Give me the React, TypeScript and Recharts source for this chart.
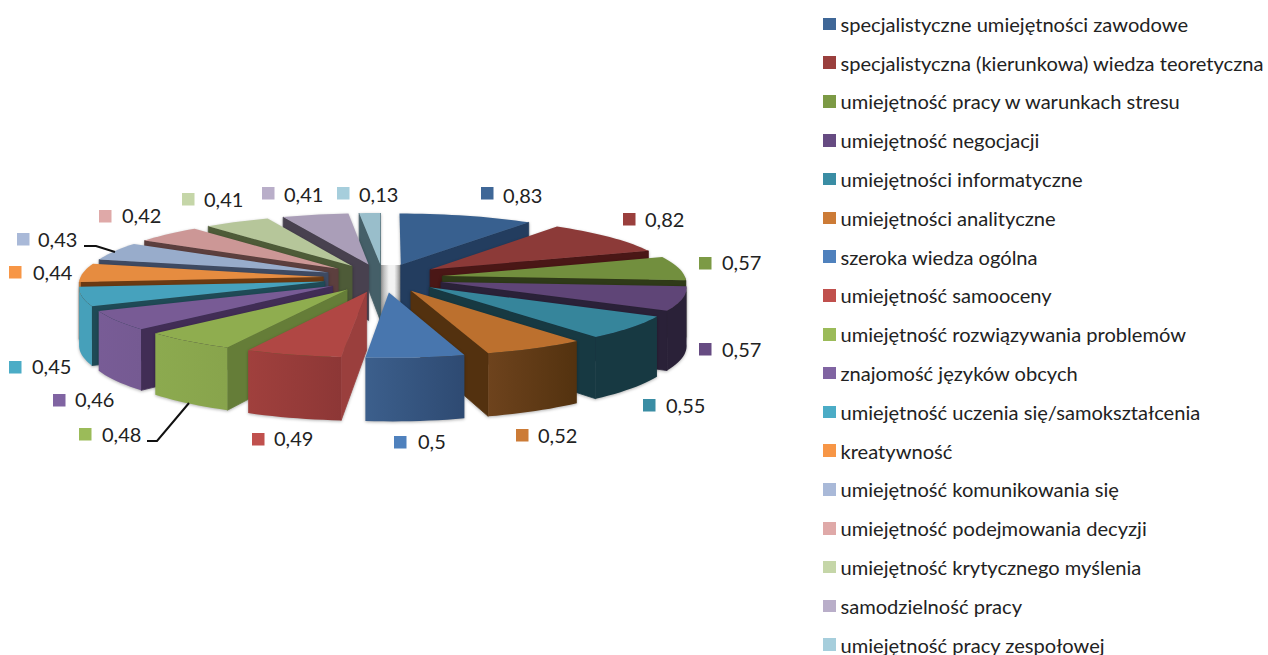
import { Legend, Pie, PieChart } from 'recharts'

const skills = [
  'specjalistyczne umiejętności zawodowe',
  'specjalistyczna (kierunkowa) wiedza teoretyczna',
  'umiejętność pracy w warunkach stresu',
  'umiejętność negocjacji',
  'umiejętności informatyczne',
  'umiejętności analityczne',
  'szeroka wiedza ogólna',
  'umiejętność samooceny',
  'umiejętność rozwiązywania problemów',
  'znajomość języków obcych',
  'umiejętność uczenia się/samokształcenia',
  'kreatywność',
  'umiejętność komunikowania się',
  'umiejętność podejmowania decyzji',
  'umiejętność krytycznego myślenia',
  'samodzielność pracy',
  'umiejętność pracy zespołowej',
]
const scores = [0.83, 0.82, 0.57, 0.57, 0.55, 0.52, 0.5, 0.49, 0.48, 0.46, 0.45, 0.44, 0.43, 0.42, 0.41, 0.41, 0.13]

const markerColors = ['#3F6797', '#9A3F3D', '#7C9A45', '#664B82', '#3A8DA4', '#CC7B36', '#4F81BD', '#C0504D', '#9BBB59', '#8064A2', '#4BACC6', '#F79646', '#A9B9D8', '#DFA9A8', '#C5D6A8', '#B9AEC9', '#A6CEDC']
const topColors = ['#38608F', '#8C3A38', '#728F3E', '#5F4577', '#36859B', '#BC702E', '#4876AE', '#B04744', '#8FAD4F', '#785B95', '#46A2BD', '#E68C40', '#98ACCB', '#CC9796', '#B6C69A', '#AA9EB8', '#99BECB']
const sideColors = ['#233D5F', '#4A1716', '#2F3A18', '#2A2138', '#173942', '#53310F', '#2E4A72', '#9A3F3D', '#657D38', '#412D55', '#1F4A56', '#6B3A12', '#3E4A62', '#5C3F3E', '#4E5B38', '#48414F', '#455F68']
const wallLeft = ['#233D5F', '#4A1716', '#2F3A18', '#2A2138', '#173942', '#6E431D', '#3C5F8C', '#A0403D', '#8CAA4F', '#785C96', '#46A0BA', '#E68C40', '#98ACCB', '#CC9796', '#B6C69A', '#AA9EB8', '#99BECB']
const wallRight = ['#233D5F', '#4A1716', '#2F3A18', '#2A2138', '#173942', '#53320F', '#2E4A72', '#8D3736', '#88A44C', '#755A92', '#46A0BA', '#E68C40', '#98ACCB', '#CC9796', '#B6C69A', '#AA9EB8', '#99BECB']

// label placement: marker x, marker middle y, text x, text baseline
const labelSpots = [
  [481, 193, 503, 203], [623, 219, 645, 227], [699, 263, 722, 270], [699, 349, 722, 357],
  [643, 405, 666, 413], [516, 435, 538, 443], [394, 442, 418, 449], [252, 439, 274, 446],
  [79, 434, 102, 442], [53, 400, 75, 407], [9, 367, 32, 374], [9, 272, 33, 280],
  [17, 239, 38, 247], [99, 216, 122, 223], [182, 199, 204, 207], [262, 193, 284, 202],
  [337, 193, 359, 202],
]
const leaders: Record<number, string> = {
  8: 'M147 441 L157 441 L189 403',
  12: 'M84 246 L96 246 L115 252',
}

const rows = skills.map((name, i) => ({ name, value: scores[i], fill: markerColors[i] }))

// draw back slices first so that the front ones cover their walls
const total = scores.reduce((s, v) => s + v, 0)
let run = 0
const mids = scores.map((v) => {
  const mid = ((run + v / 2) / total) * 360
  run += v
  return mid
})
const paintOrder = scores.map((_, i) => i).sort((a, b) => Math.abs(mids[b] - 180) - Math.abs(mids[a] - 180))

const EXPLODE = 0.247
const REACH = 1 + EXPLODE
const PERSPECTIVE = 0.103
const TILT = 71.7
const DEPTH = 57
const rad = (d: number) => (d * Math.PI) / 180

function Wedge(props: any) {
  const { cx, cy, outerRadius: R, startAngle, endAngle, index } = props
  const a0 = 90 - startAngle
  const a1 = 90 - endAngle
  const mid = (a0 + a1) / 2
  const ox = EXPLODE * Math.sin(rad(mid))
  const oz = EXPLODE * Math.cos(rad(mid))

  const project = (r: number, deg: number) => {
    const x = ox + r * Math.sin(rad(deg))
    const z = (oz + r * Math.cos(rad(deg))) / REACH
    const k = 1 / (1 + PERSPECTIVE * z)
    return { x: cx + x * R * k, y: cy - TILT * z * k, drop: DEPTH * k }
  }
  const arc = (from: number, to: number) => {
    const n = Math.max(2, Math.ceil(Math.abs(to - from) / 2))
    return Array.from({ length: n + 1 }, (_, i) => project(1, from + ((to - from) * i) / n))
  }
  const poly = (pts: string[]) => 'M' + pts.join(' L') + ' Z'
  const top = (p: any) => `${p.x} ${p.y}`
  const low = (p: any) => `${p.x} ${p.y + p.drop}`

  const apex = project(0, mid)
  const side = (deg: number) => {
    const o = project(1, deg)
    return poly([top(apex), top(o), low(o), low(apex)])
  }
  const showStart = Math.sin(rad(a0)) < 0
  const showEnd = Math.sin(rad(a1)) > 0
  const wallFrom = Math.max(a0, 90)
  const wallTo = Math.min(a1, 270)
  const wall = wallTo > wallFrom ? arc(wallFrom, wallTo) : null
  const gradId = `wall-${index}`
  const seam = { stroke: sideColors[index], strokeWidth: 0.8 }

  return (
    <g style={{ filter: 'drop-shadow(0 1px 1.5px rgba(0,0,0,0.3))' }}>
      <defs>
        <linearGradient id={gradId} x1="0" x2="1" y1="0" y2="0">
          <stop offset="0" stopColor={wallLeft[index]} />
          <stop offset="1" stopColor={wallRight[index]} />
        </linearGradient>
      </defs>
      {showStart && <path d={side(a0)} fill={sideColors[index]} {...seam} />}
      {showEnd && <path d={side(a1)} fill={sideColors[index]} {...seam} />}
      {wall && <path d={poly([...wall.map(top), ...[...wall].reverse().map(low)])} fill={`url(#${gradId})`} />}
      <path d={poly([top(apex), ...arc(a0, a1).map(top)])} fill={topColors[index]} />
    </g>
  )
}

function ValueLabel(props: any) {
  const { index, value } = props
  const [mx, my, tx, ty] = labelSpots[index]
  return (
    <g>
      {leaders[index] && <path d={leaders[index]} fill="none" stroke="#111" strokeWidth={2} />}
      <rect x={mx} y={my - 6} width={12.5} height={12.5} fill={markerColors[index]} />
      <text x={tx} y={ty} fontFamily="Lato" fontSize={20} fill="#222">
        {String(value).replace('.', ',')}
      </text>
    </g>
  )
}

function SkillLegend({ payload }: any) {
  // every Pie layer reports its sectors, keep one entry per skill
  const seen = new Set<string>()
  const items = (payload ?? []).filter((e: any) => {
    if (seen.has(e.value)) return false
    seen.add(e.value)
    return true
  })
  return (
    <ul style={{ listStyle: 'none', margin: 0, padding: 0, fontFamily: 'Lato', fontSize: 20.1, color: '#222' }}>
      {items.map((e: any) => (
        <li key={e.value} style={{ display: 'flex', alignItems: 'center', height: 38.8, whiteSpace: 'nowrap' }}>
          <span style={{ width: 12.5, height: 12.5, marginRight: 5, background: e.color, flex: 'none' }} />
          {e.value}
        </li>
      ))}
    </ul>
  )
}

const pieProps = {
  data: rows,
  dataKey: 'value',
  nameKey: 'name',
  cx: 383,
  cy: 278,
  innerRadius: 0,
  outerRadius: 243,
  startAngle: 90,
  endAngle: -270,
  stroke: 'none',
  isAnimationActive: false,
}

export default function App() {
  return (
    <div style={{ position: 'absolute', left: 0, top: 0, width: 1268, height: 655, background: '#fff' }}>
      <PieChart width={1268} height={655} margin={{ top: 0, right: 0, bottom: 0, left: 0 }}>
        <defs>
          <linearGradient id="backShadow" x1="0" x2="1" y1="0" y2="0">
            <stop offset="0" stopColor="#8A8A8A" />
            <stop offset="0.45" stopColor="#F2F2F2" />
            <stop offset="0.7" stopColor="#F2F2F2" />
            <stop offset="1" stopColor="#8A8A8A" />
          </linearGradient>
        </defs>
        <rect x={379} y={265} width={22} height={56} fill="url(#backShadow)" />
        {paintOrder.map((slice) => (
          <Pie
            key={slice}
            {...pieProps}
            legendType="none"
            labelLine={false}
            shape={(p: any) => (p.index === slice ? <Wedge {...p} /> : <g />)}
          />
        ))}
        <Pie {...pieProps} labelLine={false} label={ValueLabel} shape={() => <g />} />
        <Legend
          layout="vertical"
          align="right"
          verticalAlign="top"
          itemSorter={null}
          content={<SkillLegend />}
          wrapperStyle={{ left: 823, top: 4.5, right: 'auto', width: 445 }}
        />
      </PieChart>
    </div>
  )
}
